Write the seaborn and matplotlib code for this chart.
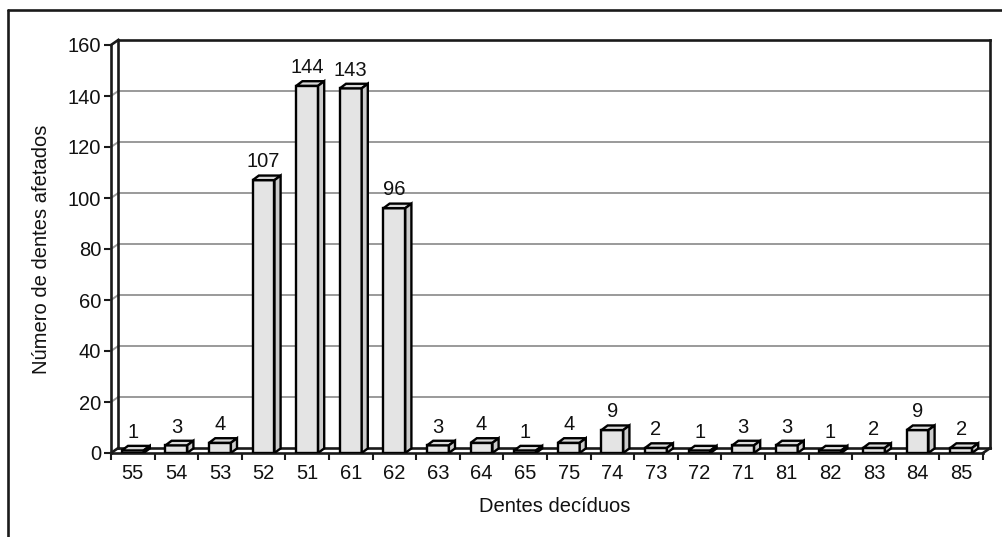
import numpy as np
import matplotlib
matplotlib.use("Agg")
import matplotlib.pyplot as plt
from matplotlib.patches import Polygon
from matplotlib.lines import Line2D
import seaborn as sns

# --- data ---
teeth = ["55", "54", "53", "52", "51", "61", "62", "63", "64", "65",
         "75", "74", "73", "72", "71", "81", "82", "83", "84", "85"]
counts = [1, 3, 4, 107, 144, 143, 96, 3, 4, 1,
          4, 9, 2, 1, 3, 3, 1, 2, 9, 2]
y_ticks = [0, 20, 40, 60, 80, 100, 120, 140, 160]

sns.set_theme(style="white")
plt.rcParams["font.family"] = ["Liberation Sans", "DejaVu Sans"]
FS = 14.5
TXT = "#111111"

fig = plt.figure(figsize=(10.03, 5.37), dpi=100)
ax = fig.add_axes([111 / 1003, 84 / 537, 872 / 1003, 408 / 537])

# 3d offsets (data units)
DX, DY = 0.17, 2.0      # walls / floor depth
BDX, BDY = 0.14, 1.8    # bar depth

front = "#e4e4e4"
side = "#cbcbcb"
top = "#d9d9d9"
LW = 1.7

sns.barplot(x=teeth, y=counts, order=teeth, color=front, width=0.5,
            edgecolor="black", linewidth=LW, saturation=1, ax=ax, zorder=3)

for p in list(ax.patches):
    x0 = p.get_x()
    w = p.get_width()
    h = p.get_height()
    x1 = x0 + w
    ax.add_patch(Polygon([(x0, h), (x1, h), (x1 + BDX, h + BDY), (x0 + BDX, h + BDY)],
                         closed=True, facecolor=top, edgecolor="black", lw=LW, zorder=3))
    ax.add_patch(Polygon([(x1, 0), (x1 + BDX, BDY), (x1 + BDX, h + BDY), (x1, h)],
                         closed=True, facecolor=side, edgecolor="black", lw=LW, zorder=3))
    ax.annotate(f"{int(h)}", (x0 + w / 2, h + BDY), xytext=(0, 3), textcoords="offset points",
                ha="center", va="bottom", fontsize=FS, color=TXT, zorder=5)

xl, xr = -0.5, len(teeth) - 0.5
ax.set_xlim(xl, xr)
ax.set_ylim(0, 160)

# back wall grid lines + diagonals on the left wall
for v in y_ticks[1:-1]:
    ax.plot([xl + DX, xr + DX], [v + DY, v + DY], color="#9a9a9a", lw=1.4, zorder=1, clip_on=False)
    ax.plot([xl, xl + DX], [v, v + DY], color="#9a9a9a", lw=1.4, zorder=1, clip_on=False)

k = dict(color="#1a1a1a", lw=1.9, zorder=2, clip_on=False, solid_capstyle="projecting")
# left wall
ax.plot([xl, xl], [0, 160], **k)
ax.plot([xl + DX, xl + DX], [DY, 160 + DY], **k)
ax.plot([xl, xl + DX], [160, 160 + DY], **k)
ax.plot([xl, xl + DX], [0, DY], **k)
# back wall top and right edge
ax.plot([xl + DX, xr + DX], [160 + DY, 160 + DY], **k)
ax.plot([xr + DX, xr + DX], [DY, 160 + DY], **k)
# floor
ax.plot([xl, xr], [0, 0], **k)
ax.plot([xl + DX, xr + DX], [DY, DY], **k)
ax.plot([xr, xr + DX], [0, DY], **k)

for s in ax.spines.values():
    s.set_visible(False)

ax.set_yticks(y_ticks)
ax.set_yticklabels([str(v) for v in y_ticks], fontsize=FS, color=TXT)
ax.tick_params(axis="y", left=True, length=5, width=1.5, color="#1a1a1a", pad=2)

ax.set_xticks(range(len(teeth)))
ax.set_xticklabels(teeth, fontsize=FS, color=TXT)
ax.set_xticks(np.arange(xl, xr + 1), minor=True)
ax.tick_params(axis="x", which="major", bottom=True, length=0, pad=8)
ax.tick_params(axis="x", which="minor", bottom=True, length=5, width=1.5, color="#1a1a1a")
ax.grid(False)

ax.set_xlabel("Dentes decíduos", fontsize=FS, color=TXT)
ax.xaxis.set_label_coords((555 - 111) / 872, (453 - 507) / 408)
ax.xaxis.label.set_va("center")
ax.set_ylabel("Número de dentes afetados", fontsize=FS, color=TXT)
ax.yaxis.set_label_coords((42 - 111) / 872, 0.5)
ax.yaxis.label.set_va("center")

# outer frame (runs off the right and bottom of the picture)
fig.add_artist(Line2D([8 / 1003, 1.05], [1 - 10 / 537, 1 - 10 / 537], color="#1a1a1a", lw=1.9))
fig.add_artist(Line2D([8 / 1003, 8 / 1003], [1 - 10 / 537, -0.05], color="#1a1a1a", lw=1.9))

fig.savefig("out.png", dpi=100)
